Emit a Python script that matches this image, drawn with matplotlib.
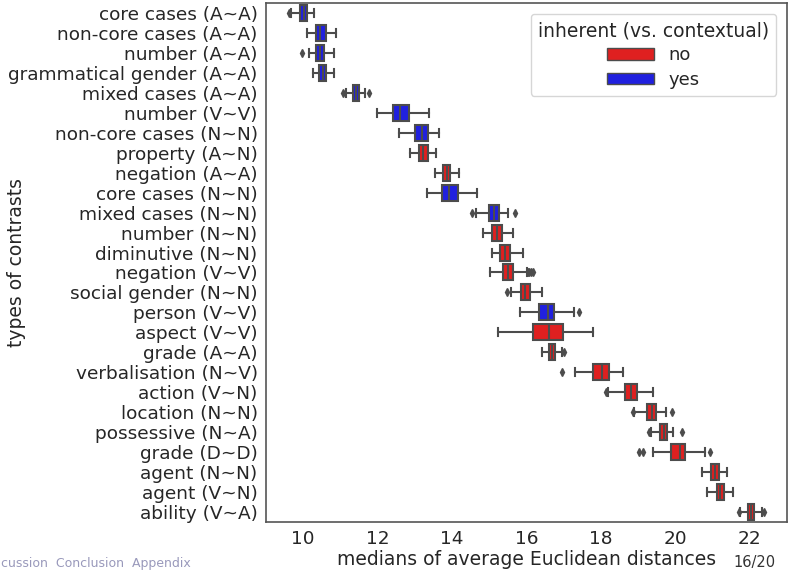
import matplotlib
matplotlib.use("Agg")
import matplotlib.pyplot as plt
from matplotlib.patches import Patch

plt.rcParams["text.color"] = "#262626"
plt.rcParams["xtick.color"] = "#262626"
plt.rcParams["ytick.color"] = "#262626"
plt.rcParams["axes.labelcolor"] = "#262626"

# contrast types, top to bottom
labels = [
    "core cases (A~A)", "non-core cases (A~A)", "number (A~A)",
    "grammatical gender (A~A)", "mixed cases (A~A)", "number (V~V)",
    "non-core cases (N~N)", "property (A~N)", "negation (A~A)",
    "core cases (N~N)", "mixed cases (N~N)", "number (N~N)",
    "diminutive (N~N)", "negation (V~V)", "social gender (N~N)",
    "person (V~V)", "aspect (V~V)", "grade (A~A)", "verbalisation (N~V)",
    "action (V~N)", "location (N~N)", "possessive (N~A)", "grade (D~D)",
    "agent (N~N)", "agent (V~N)", "ability (V~A)",
]
inherent = ["yes", "yes", "yes", "yes", "yes", "yes", "yes", "no", "no",
            "yes", "yes", "no", "no", "no", "no", "yes", "no", "no", "no",
            "no", "no", "no", "no", "no", "no", "no"]

# box statistics per contrast
whislo = [9.67, 10.09, 10.15, 10.25, 11.15, 11.99, 12.58, 12.86, 13.53,
          13.32, 14.63, 14.82, 15.07, 15.02, 15.59, 15.83, 15.23, 16.42,
          17.31, 18.18, 18.89, 19.34, 19.39, 20.71, 20.86, 21.75]
q1 = [9.92, 10.34, 10.34, 10.43, 11.34, 12.41, 13.00, 13.10, 13.76,
      13.74, 14.98, 15.07, 15.29, 15.38, 15.86, 16.34, 16.17, 16.60,
      17.78, 18.66, 19.25, 19.60, 19.88, 20.95, 21.12, 21.95]
med = [10.01, 10.46, 10.44, 10.52, 11.41, 12.60, 13.18, 13.23, 13.86,
       13.93, 15.14, 15.21, 15.42, 15.50, 15.97, 16.59, 16.61, 16.68,
       18.03, 18.82, 19.38, 19.69, 20.12, 21.06, 21.20, 22.04]
q3 = [10.10, 10.61, 10.55, 10.62, 11.50, 12.83, 13.34, 13.36, 13.95,
      14.15, 15.26, 15.34, 15.56, 15.63, 16.09, 16.75, 16.99, 16.76,
      18.21, 18.97, 19.49, 19.78, 20.27, 21.16, 21.31, 22.12]
whishi = [10.30, 10.89, 10.82, 10.84, 11.67, 13.38, 13.65, 13.57, 14.19,
          14.68, 15.50, 15.65, 15.91, 16.00, 16.41, 17.28, 17.78, 16.95,
          18.59, 19.40, 19.76, 19.94, 20.80, 21.40, 21.55, 22.34]
fliers = [[9.63], [], [9.98], [], [11.06, 11.76], [], [], [], [],
          [], [14.54, 15.69], [], [], [16.03, 16.08, 16.13, 16.18], [15.48],
          [17.40], [], [17.00], [16.96], [18.13], [18.87, 19.91],
          [19.28, 20.18], [19.03, 19.14, 20.93], [], [], [21.70, 22.37]]

colors = {"no": "#df2020", "yes": "#2020df"}
gray = "#4c4c4c"

stats = []
for i in range(len(labels)):
    stats.append(dict(whislo=whislo[i], q1=q1[i], med=med[i], q3=q3[i],
                      whishi=whishi[i], fliers=fliers[i], label=labels[i]))

fig = plt.figure(figsize=(7.88, 5.71), dpi=100)
ax = fig.add_axes([266 / 788, 49 / 571, 521 / 788, 519 / 571])

bp = ax.bxp(stats, positions=range(len(labels)), vert=False, widths=0.8,
            patch_artist=True, manage_ticks=False,
            boxprops=dict(edgecolor=gray, linewidth=1.5),
            medianprops=dict(color=gray, linewidth=1.5),
            whiskerprops=dict(color=gray, linewidth=1.5),
            capprops=dict(color=gray, linewidth=1.5),
            flierprops=dict(marker="d", markerfacecolor=gray,
                            markeredgecolor=gray, markersize=4))
for box, kind in zip(bp["boxes"], inherent):
    box.set_facecolor(colors[kind])

ax.set_xlim(9.0, 23.0)
ax.set_ylim(len(labels) - 0.5, -0.5)
ax.set_yticks(range(len(labels)))
ax.set_yticklabels(labels, fontsize=13.3)
ax.set_xticks([10, 12, 14, 16, 18, 20, 22])
ax.tick_params(axis="x", labelsize=13.3, length=0, pad=6)
ax.tick_params(axis="y", length=0, pad=6)
for s in ax.spines.values():
    s.set_color("#555555")
    s.set_linewidth(1.2)

ax.set_xlabel("medians of average Euclidean distances", fontsize=13.5, labelpad=1)
ax.set_ylabel("types of contrasts", fontsize=13.5)
ax.yaxis.set_label_coords(-0.46, 0.5)

handles = [Patch(facecolor=colors["no"], edgecolor=gray, label="no"),
           Patch(facecolor=colors["yes"], edgecolor=gray, label="yes")]
ax.legend(handles=handles, title="inherent (vs. contextual)", loc="upper right",
          fontsize=13, title_fontsize=13.5, frameon=True, edgecolor="#cccccc",
          borderaxespad=0.6, handlelength=2.6, handleheight=0.6,
          labelspacing=0.35, borderpad=0.4)

# slide footer
fig.text(1 / 788, 8 / 571, "cussion  Conclusion  Appendix", fontsize=9,
         color="#9999bb", va="center", ha="left")
fig.text(776 / 788, 8 / 571, "16/20", fontsize=10.5, color="#333333",
         va="center", ha="right")

fig.savefig("out.png", dpi=100)
